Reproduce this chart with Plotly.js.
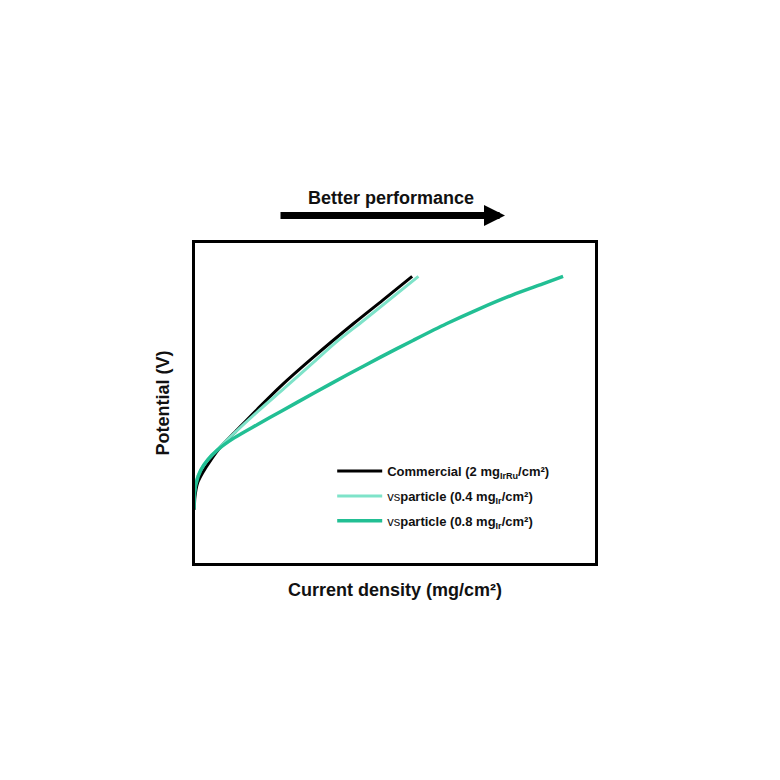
<!DOCTYPE html>
<html>
<head>
<meta charset="utf-8">
<script src="https://cdn.plot.ly/plotly-3.0.1.min.js"></script>
<style>html,body{margin:0;padding:0;background:#fff;}#chart{width:780px;height:780px;}</style>
</head>
<body>
<div id="chart"></div>
<script>
// Values (arbitrary units, the original has no ticks)
const commercialX = [1.3, 2, 4.7, 9.7, 18, 28, 41.3, 64.7, 88, 121.3, 161.3, 190, 219.7];
const commercialY = [55, 68.3, 82, 92, 105, 118.3, 132, 156, 179, 208.5, 242, 265, 289];
const vsp04X = [1, 1.5, 4.7, 9.7, 18, 31.3, 64.7, 91.3, 121.3, 144.7, 171.3, 226];
const vsp04Y = [55, 73, 88.3, 98.3, 108.3, 122, 153.3, 176.7, 203.3, 224, 245, 289];
const vsp08X = [1, 1.3, 3, 8, 14.7, 24.7, 41.3, 64.7, 88, 121.3, 154.7, 188, 221, 254, 287, 320, 350, 371];
const vsp08Y = [56, 68, 81, 95, 105, 115, 127, 140.5, 153.5, 172, 190.3, 208, 225, 241.5, 256.5, 270.3, 281.3, 289];
const seriesNames = [
  'Commercial (2 mg<sub>IrRu</sub>/cm²)',
  '<span style="font-weight:normal">vs</span>particle (0.4 mg<sub>Ir</sub>/cm²)',
  '<span style="font-weight:normal">vs</span>particle (0.8 mg<sub>Ir</sub>/cm²)'
];

const FONT = 'Liberation Sans, Arial, sans-serif';

const traces = [
  {x: commercialX, y: commercialY, name: seriesNames[0], legendgroup: 'a',
   mode: 'lines', line: {color: '#000000', width: 3, shape: 'spline', smoothing: 0.8}},
  {x: vsp04X, y: vsp04Y, name: seriesNames[1], legendgroup: 'b',
   mode: 'lines', line: {color: '#7ee3c9', width: 3, shape: 'spline', smoothing: 0.8}},
  {x: vsp08X, y: vsp08Y, name: seriesNames[2], legendgroup: 'c',
   mode: 'lines', line: {color: '#22bf94', width: 3.5, shape: 'spline', smoothing: 0.8}}
];

const layout = {
  width: 780, height: 780,
  paper_bgcolor: '#ffffff', plot_bgcolor: '#ffffff',
  margin: {l: 194.5, r: 184.8, t: 242.5, b: 216.5},
  font: {family: FONT, color: '#111111'},
  showlegend: true,
  legend: {
    x: 0.343, y: 0.334, xanchor: 'left', yanchor: 'top',
    bgcolor: 'rgba(0,0,0,0)', borderwidth: 0,
    traceorder: 'grouped', tracegroupgap: 5, itemwidth: 45,
    font: {family: FONT, size: 13, weight: 'bold', color: '#111111'}
  },
  xaxis: {
    range: [2, 403], showgrid: false, zeroline: false, showticklabels: false, ticks: '',
    showline: true, mirror: true, linecolor: '#000000', linewidth: 3,
    title: {text: 'Current density (mg/cm²)', standoff: 19,
            font: {family: FONT, size: 18, weight: 'bold', color: '#111111'}}
  },
  yaxis: {
    range: [1.5, 322.5], showgrid: false, zeroline: false, showticklabels: false, ticks: '',
    showline: true, mirror: true, linecolor: '#000000', linewidth: 3,
    title: {text: 'Potential (V)', standoff: 18,
            font: {family: FONT, size: 18, weight: 'bold', color: '#111111'}}
  },
  annotations: [
    {xref: 'paper', yref: 'paper', x: 0.775, y: 1.086, ax: -226, ay: 0,
     showarrow: true, arrowhead: 2, arrowsize: 0.6, arrowwidth: 7, arrowcolor: '#000000',
     text: ''},
    {xref: 'paper', yref: 'paper', x: 0.49, y: 1.142, showarrow: false,
     text: 'Better performance', xanchor: 'center', yanchor: 'middle',
     font: {family: FONT, size: 18, weight: 'bold', color: '#111111'}}
  ]
};

Plotly.newPlot('chart', traces, layout, {displayModeBar: false, staticPlot: true});
</script>
</body>
</html>
